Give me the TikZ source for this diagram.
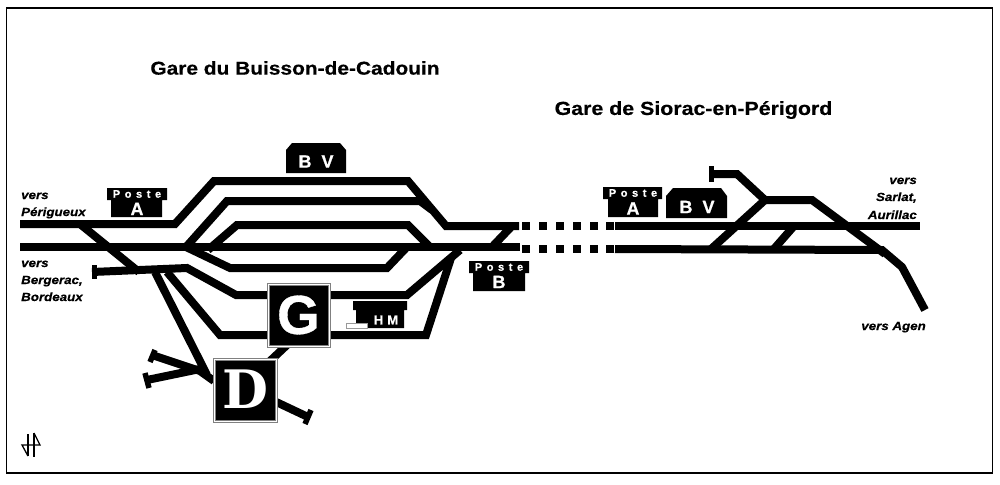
\documentclass[tikz,border=0pt]{standalone}
\usepackage{fontspec}
\setmainfont{Liberation Sans}
\newfontfamily\widefont[FakeStretch=1.13, FakeBold=0.5]{Liberation Sans}
\newfontfamily\boldfont[FakeBold=0.6]{Liberation Sans}
\newfontfamily\slabfont{DejaVu Serif}
\usepackage{tikz}
\newcommand{\postelbl}{P\hspace{4.6pt}o\hspace{4.6pt}s\hspace{4.6pt}t\hspace{4.6pt}e}
\tikzset{
	track/.style={draw=black, line width=8pt, line join=miter, line cap=butt},
	bufferstop/.style={draw=black, line width=5.5pt},
	buildingfill/.style={fill=black, draw=none},
	cabinbox/.style={fill=black, draw=black!50, line width=1pt, double=white, double distance=1pt},
	title/.style={font=\widefont\bfseries\fontsize{18.5}{20}\selectfont, text=black, inner sep=0pt},
	dirlabel/.style={font=\widefont\bfseries\itshape\fontsize{11.8}{12}\selectfont, inner sep=0pt, anchor=base west},
	dirlabelr/.style={font=\widefont\bfseries\itshape\fontsize{11.8}{12}\selectfont, inner sep=0pt, anchor=base east},
	postelabel/.style={font=\boldfont\bfseries\fontsize{11}{12}\selectfont, text=white, inner sep=0pt},
	bigletter/.style={font=\boldfont\bfseries\fontsize{18}{20}\selectfont, text=white, inner sep=0pt},
}
\begin{document}
\begin{tikzpicture}[x=1pt, y=-1pt]
	\useasboundingbox (0,0) rectangle (1000,484);
	\draw[black, line width=1.8pt] (6.5,8) rectangle (992.5,473);

	%titles
	\node[title] (titlebuisson) at (295,68) {Gare du Buisson-de-Cadouin};
	\node[title, font=\widefont\bfseries\fontsize{18.9}{20}\selectfont] (titlesiorac) at (693.5,110) {Gare de Siorac-en-Périgord};

	%left station, main lines
	\draw[track] (20,224) -- (175,224) -- (214,181) -- (408,181) -- (446,226) -- (519,226);
	\draw[track] (20,247) -- (520,247);
	%left station, platform tracks
	\draw[track] (186,247) -- (227,201) -- (420,201) -- (432,210);
	\draw[track] (208,250) -- (237,225) -- (408,225) -- (430,247);
	\draw[track] (186,247) -- (230,268) -- (387,268) -- (407,247);
	\draw[track] (512,226) -- (492,247);
	%left station, lower tracks
	\draw[track] (80,224) -- (139,272);
	\draw[track] (92,272) -- (187,268) -- (236,295) -- (407,295) -- (460,250);
	\draw[track] (167,272) -- (220,335) -- (426,335) -- (451,258);
	\draw[track] (155,272) -- (207,375);
	\draw[track] (152,355) -- (200,371) -- (214,381);
	\draw[track] (147,380) -- (200,369);
	\draw[track] (272,400) -- (308,417);
	\draw[track] (287,345) -- (270,361);
	%buffer stops
	\draw[bufferstop] (94.5,265) -- (94.5,279);
	\draw[bufferstop] (155,350) -- (150,362);
	\draw[bufferstop] (145,373) -- (149,388);
	\draw[bufferstop] (311,410) -- (305,424);
	\draw[bufferstop] (711.5,166) -- (711.5,182);

	%dashed link between the stations
	\foreach \x in {522,539,556,573,590,606}
	{
		\fill (\x pt,222) rectangle +(8pt,-8pt);
		\fill (\x pt,245) rectangle +(8pt,-8pt);
	}

	%right station
	\draw[track] (615,226) -- (920,226);
	\draw[track] (615,249) -- (882,250) -- (902,267) -- (925,310);
	\draw[track] (711,174) -- (737,174) -- (765,200);
	\draw[track] (710,250) -- (765,200) -- (812,200) -- (885,254);
	\draw[track] (794,226) -- (773,250);

	%signal boxes
	\draw[cabinbox] (268.5,284.5) rectangle (329.5,346.5);
	\node[font=\boldfont\bfseries\fontsize{55}{55}\selectfont, text=white, inner sep=0pt] (letterg) at (298.5,315) {G};
	\draw[cabinbox] (214.5,359.5) rectangle (276,421.5);
	\node[font=\slabfont\bfseries\fontsize{53}{53}\selectfont, text=white, inner sep=0pt] (letterd) at (245.5,389) {D};

	%buildings
	\fill[buildingfill] (107,188) rectangle (167,200) (111,200) rectangle (162,217);
	\node[postelabel] (postea) at (137,194) {\postelbl};
	\node[bigletter] (lettera) at (137,209) {A};

	\fill[buildingfill] (469,261) rectangle (529,273) (473,273) rectangle (525,291);
	\node[postelabel] (posteb) at (499,267) {\postelbl};
	\node[bigletter] (letterb) at (499,282) {B};

	\fill[buildingfill] (603,187) rectangle (662,199) (608,199) rectangle (658,217);
	\node[postelabel] (postec) at (633,193) {\postelbl};
	\node[bigletter] (letterc) at (633,208.5) {A};

	\fill[buildingfill] (286,173) -- (286,150) -- (292,143) -- (340,143) -- (346,150) -- (346,173) -- cycle;
	\node[bigletter] (bvleft) at (316,161.5) {B\hspace{10pt}V};
	\fill[buildingfill] (666,218) -- (666,196) -- (673,188) -- (721,188) -- (727,196) -- (727,218) -- cycle;
	\node[bigletter] (bvright) at (697,207) {B\hspace{10pt}V};

	\fill[buildingfill] (353,301) rectangle (407,310) (356,310) rectangle (404,328);
	\draw[fill=white, draw=black!40, line width=0.6pt] (346,323) rectangle (367,328);
	\node[font=\boldfont\bfseries\fontsize{13}{13}\selectfont, text=white, inner sep=0pt] (hm) at (386,320) {H\hspace{4pt}M};

	%direction labels
	\node[dirlabel] (vp) at (21,199) {vers};
	\node[dirlabel] (vpb) at (21,216) {Périgueux};
	\node[dirlabel] (vb) at (21,267) {vers};
	\node[dirlabel] (vbb) at (21,284) {Bergerac,};
	\node[dirlabel] (vbc) at (21,301) {Bordeaux};
	\node[dirlabelr] (vs) at (917,184) {vers};
	\node[dirlabelr] (vsb) at (917,201) {Sarlat,};
	\node[dirlabelr] (vsc) at (917,219) {Aurillac};
	\node[dirlabelr] (va) at (926,330) {vers Agen};

	%north mark
	\draw[black, line width=1.3pt] (28,434) -- (28,456);
	\draw[black, line width=1.3pt] (34,433) -- (34,457);
	\draw[black, line width=1.3pt, line join=miter] (34,433) -- (40,445) -- (22,445) -- (28,456);
\end{tikzpicture}
\end{document}
